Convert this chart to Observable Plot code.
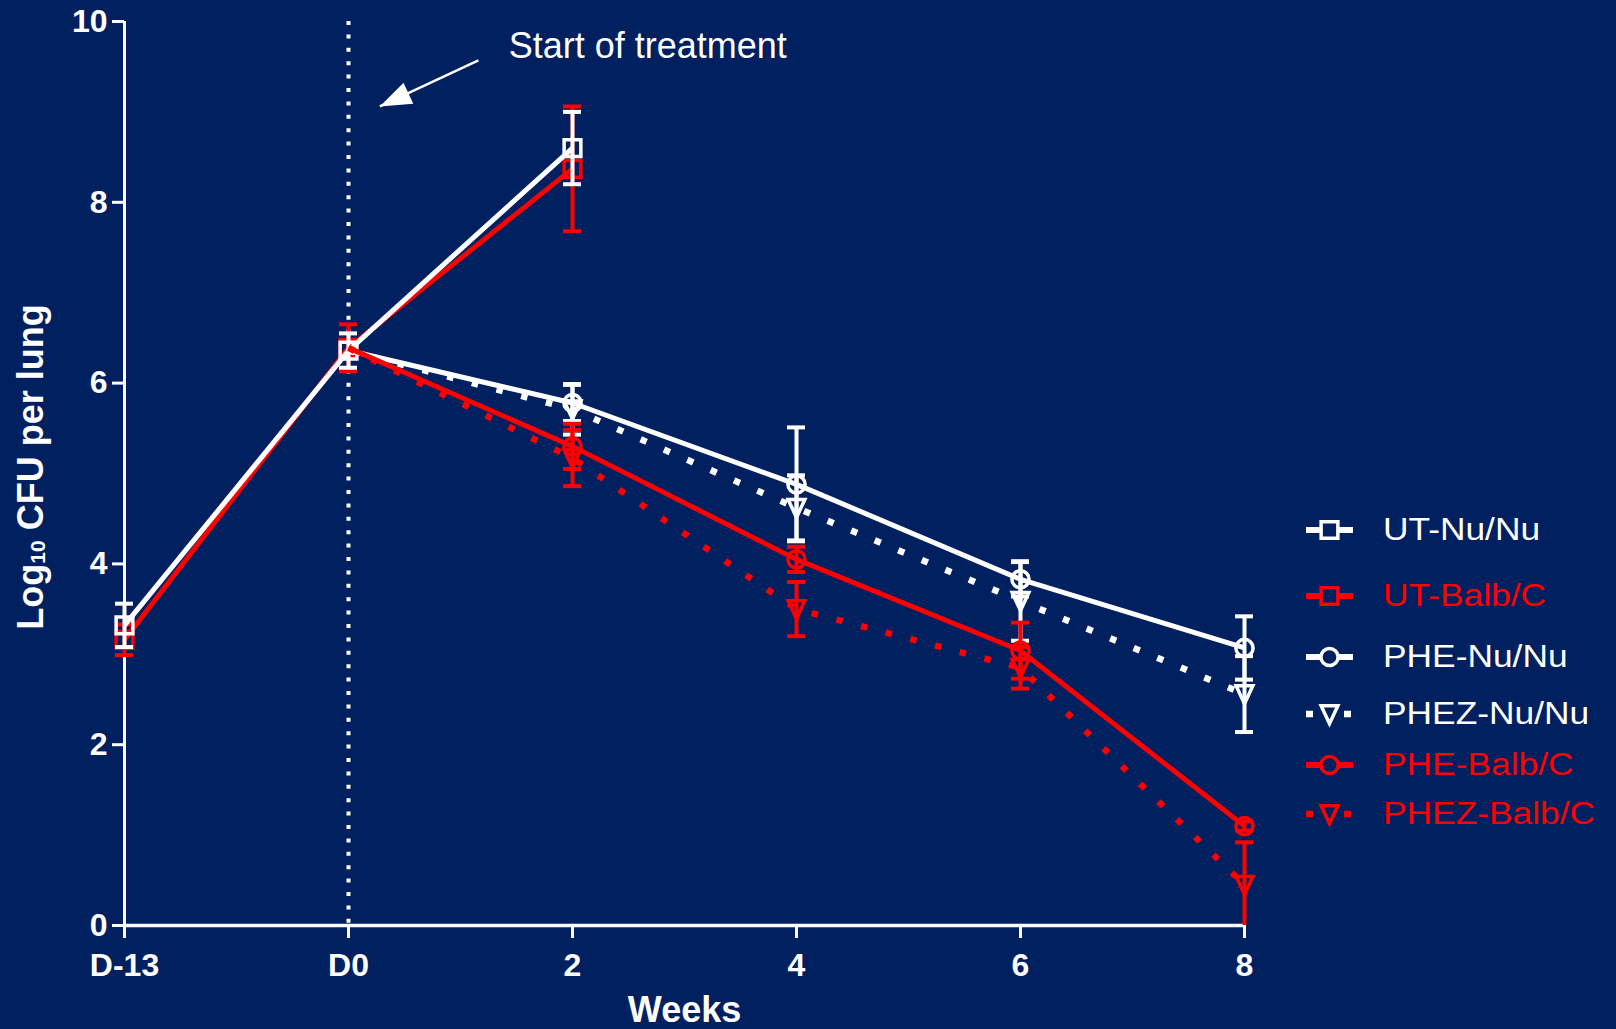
<!DOCTYPE html>
<html>
<head>
<meta charset="utf-8">
<script src="https://cdn.jsdelivr.net/npm/d3@7"></script>
<script src="https://cdn.jsdelivr.net/npm/@observablehq/plot@0.6"></script>
<style>
  html, body { margin: 0; padding: 0; background: #002060; }
  #wrap { position: relative; width: 1616px; height: 1029px; overflow: hidden; background: #002060;
          font-family: "Liberation Sans", Arial, sans-serif; }
  #wrap > svg { position: absolute; left: 0; top: 0; }
  .leg { position: absolute; display: flex; align-items: center; height: 40px; }
  .leg svg { display: block; }
  .leg span { display: inline-block; font-size: 31px; transform: scaleX(1.14); transform-origin: 0 50%;
              white-space: nowrap; margin-left: 28px; line-height: 40px; }
</style>
</head>
<body>
<div id="wrap"></div>
<script>
// ---------------- data ----------------
const xTicks = [-2, 0, 2, 4, 6, 8];
const xTickLabels = ["D-13", "D0", "2", "4", "6", "8"];
const yTicks = [0, 2, 4, 6, 8, 10];

const seriesNames = ["UT-Nu/Nu", "UT-Balb/C", "PHE-Nu/Nu", "PHEZ-Nu/Nu", "PHE-Balb/C", "PHEZ-Balb/C"];

const utX = [-2, 0, 2];
const treatX = [0, 2, 4, 6, 8];

const utNuMean   = [3.32, 6.36, 8.60];
const utNuErr    = [0.24, 0.19, 0.40];
const utBalbMean = [3.16, 6.39, 8.37];
const utBalbErr  = [0.17, 0.26, 0.69];

const pheNuMean    = [6.36, 5.78, 4.88, 3.83, 3.07];
const pheNuErr     = [null, 0.20, 0.63, 0.19, 0.35];
const phezNuMean   = [6.36, 5.71, 4.62, 3.59, 2.56];
const phezNuErr    = [null, 0.28, 0.36, 0.44, 0.42];
const pheBalbMean  = [6.39, 5.30, 4.05, 3.04, 1.10];
const pheBalbErr   = [null, 0.25, 0.14, 0.31, 0.05];
const phezBalbMean = [6.39, 5.17, 3.50, 2.85, 0.45];
const phezBalbErr  = [null, 0.31, 0.30, 0.23, 0.47];

const annotationText = "Start of treatment";
const annotation = [{x1: 1.16, y1: 9.57, x2: 0.28, y2: 9.06, tx: 1.43, ty: 9.6}];

// ---------------- styles ----------------
const NAVY = "#002060";
const WHITE = "#ffffff";
const RED = "#ff0000";

const symSquare = {draw(ctx, size) { const r = Math.sqrt(size / Math.PI), h = r * 0.9;
  ctx.moveTo(-h, -h); ctx.lineTo(h, -h); ctx.lineTo(h, h); ctx.lineTo(-h, h); ctx.closePath(); }};
const symTriDown = {draw(ctx, size) { const r = Math.sqrt(size / Math.PI);
  ctx.moveTo(-0.95 * r, -0.95 * r); ctx.lineTo(0.95 * r, -0.95 * r); ctx.lineTo(0, 1.1 * r); ctx.closePath(); }};
const symArrowHead = {draw(ctx, size) { const r = Math.sqrt(size / Math.PI);
  ctx.moveTo(0, 0); ctx.lineTo(-1.1 * r, 3 * r); ctx.lineTo(1.1 * r, 3 * r); ctx.closePath(); }};

const styles = {
  "UT-Nu/Nu":    {color: WHITE, symbol: symSquare,  r: 9.3, dotted: false},
  "UT-Balb/C":   {color: RED,   symbol: symSquare,  r: 9.3, dotted: false},
  "PHE-Nu/Nu":   {color: WHITE, symbol: "circle",   r: 8.6, dotted: false},
  "PHEZ-Nu/Nu":  {color: WHITE, symbol: symTriDown, r: 8.8, dotted: true},
  "PHE-Balb/C":  {color: RED,   symbol: "circle",   r: 8.6, dotted: false},
  "PHEZ-Balb/C": {color: RED,   symbol: symTriDown, r: 8.8, dotted: true}
};

function rows(name, xs, means, errs) {
  return xs.map((x, i) => ({series: name, x, y: means[i], err: errs[i]}));
}
const table = {
  "UT-Nu/Nu": rows("UT-Nu/Nu", utX, utNuMean, utNuErr),
  "UT-Balb/C": rows("UT-Balb/C", utX, utBalbMean, utBalbErr),
  "PHE-Nu/Nu": rows("PHE-Nu/Nu", treatX, pheNuMean, pheNuErr),
  "PHEZ-Nu/Nu": rows("PHEZ-Nu/Nu", treatX, phezNuMean, phezNuErr),
  "PHE-Balb/C": rows("PHE-Balb/C", treatX, pheBalbMean, pheBalbErr),
  "PHEZ-Balb/C": rows("PHEZ-Balb/C", treatX, phezBalbMean, phezBalbErr)
};
const drawOrder = ["UT-Balb/C", "UT-Nu/Nu", "PHE-Nu/Nu", "PHEZ-Nu/Nu", "PHE-Balb/C", "PHEZ-Balb/C"];

function seriesMarks(name) {
  const st = styles[name];
  const data = table[name];
  const eb = data.filter(d => d.err != null);
  const lower = eb.filter(d => d.y - d.err >= 0);
  return [
    Plot.line(data, {x: "x", y: "y", stroke: st.color,
      strokeWidth: st.dotted ? 6.5 : 5, strokeDasharray: st.dotted ? "6.5,19" : null,
      strokeLinecap: "butt", strokeLinejoin: "miter"}),
    Plot.ruleX(eb, {x: "x", y1: d => Math.max(0, d.y - d.err), y2: d => d.y + d.err, stroke: st.color, strokeWidth: 4}),
    Plot.ruleY(eb, {y: d => d.y + d.err, x1: "x", x2: "x", insetLeft: -9, insetRight: -9, stroke: st.color, strokeWidth: 4}),
    Plot.ruleY(lower, {y: d => d.y - d.err, x1: "x", x2: "x", insetLeft: -9, insetRight: -9, stroke: st.color, strokeWidth: 4}),
    Plot.dot(eb, {x: "x", y: "y", symbol: st.symbol, r: st.r, stroke: st.color, strokeWidth: 3.5, fill: "none"})
  ];
}

const chart = Plot.plot({
  width: 1616,
  height: 1029,
  marginLeft: 124,
  marginRight: 372,
  marginTop: 21,
  marginBottom: 104,
  x: {domain: [-2, 8]},
  y: {domain: [0, 10]},
  style: {background: NAVY, color: WHITE, fontFamily: "'Liberation Sans', Arial, sans-serif", overflow: "visible"},
  marks: [
    Plot.ruleX([0], {stroke: WHITE, strokeWidth: 4, strokeDasharray: "4,9.4"}),
    Plot.axisY({ticks: yTicks, tickSize: 12, tickPadding: 5, fontSize: 32, fontWeight: "bold",
      strokeWidth: 3, color: WHITE, label: null}),
    Plot.axisX({ticks: xTicks, tickFormat: d => xTickLabels[xTicks.indexOf(d)], tickSize: 13, tickPadding: 15,
      fontSize: 32, fontWeight: "bold", strokeWidth: 3, color: WHITE, label: null}),
    Plot.ruleX([-2], {stroke: WHITE, strokeWidth: 3}),
    Plot.ruleY([0], {stroke: WHITE, strokeWidth: 3.5}),
    Plot.text(["Weeks"], {frameAnchor: "bottom", dy: 96, lineAnchor: "bottom", fontSize: 36, fontWeight: "bold", fill: WHITE}),
    ...drawOrder.flatMap(seriesMarks),
    Plot.link(annotation, {x1: "x1", y1: "y1", x2: "x2", y2: "y2", stroke: WHITE, strokeWidth: 2.5}),
    Plot.dot(annotation, {x: "x2", y: "y2", symbol: symArrowHead, r: 10.5, rotate: 245, fill: WHITE, stroke: "none"}),
    Plot.text(annotation, {x: "tx", y: "ty", text: () => annotationText, textAnchor: "start", lineAnchor: "bottom",
      fontSize: 36, fill: WHITE})
  ]
});

const wrap = document.getElementById("wrap");
wrap.appendChild(chart);

// y-axis title with subscript
const ns = "http://www.w3.org/2000/svg";
const ySvg = document.createElementNS(ns, "svg");
ySvg.setAttribute("width", 90); ySvg.setAttribute("height", 1029);
ySvg.style.position = "absolute"; ySvg.style.left = "0px"; ySvg.style.top = "0px";
const yt = document.createElementNS(ns, "text");
yt.setAttribute("transform", "translate(42.5,467) rotate(-90)");
yt.setAttribute("text-anchor", "middle");
yt.setAttribute("fill", WHITE);
yt.setAttribute("font-size", 36);
yt.setAttribute("font-weight", "bold");
yt.setAttribute("font-family", "'Liberation Sans', Arial, sans-serif");
const t1 = document.createElementNS(ns, "tspan"); t1.textContent = "Log";
const t2 = document.createElementNS(ns, "tspan"); t2.textContent = "10"; t2.setAttribute("font-size", 21); t2.setAttribute("dy", 2);
const t3 = document.createElementNS(ns, "tspan"); t3.textContent = " CFU per lung"; t3.setAttribute("dy", -2);
yt.append(t1, t2, t3);
ySvg.appendChild(yt);
wrap.appendChild(ySvg);

// legend
const legendCenters = [530, 596, 657, 714, 765, 814];
seriesNames.forEach((name, i) => {
  const st = styles[name];
  const item = document.createElement("div");
  item.className = "leg";
  item.style.left = "1305px";
  item.style.top = (legendCenters[i] - 20) + "px";
  const sw = d3.create("svg").attr("width", 50).attr("height", 40);
  sw.append("line").attr("x1", 1).attr("x2", 48).attr("y1", 20).attr("y2", 20)
    .attr("stroke", st.color).attr("stroke-width", st.dotted ? 6.5 : 6)
    .attr("stroke-dasharray", st.dotted ? "7,12" : null);
  const symType = st.symbol === "circle" ? d3.symbolCircle : st.symbol;
  sw.append("path").attr("transform", "translate(24.5,20)")
    .attr("d", d3.symbol(symType, Math.PI * st.r * st.r)())
    .attr("fill", NAVY).attr("stroke", st.color).attr("stroke-width", 3.5);
  item.appendChild(sw.node());
  const label = document.createElement("span");
  label.textContent = name;
  label.style.color = st.color;
  item.appendChild(label);
  wrap.appendChild(item);
});
</script>
</body>
</html>
